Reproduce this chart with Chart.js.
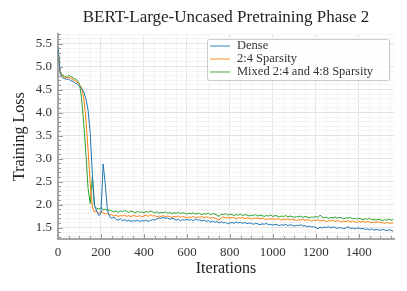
<!DOCTYPE html>
<html>
<head>
<meta charset="utf-8">
<script src="https://cdn.jsdelivr.net/npm/chart.js@4/dist/chart.umd.min.js"></script>
<style>
  html, body { margin: 0; padding: 0; background: #fff; }
  #wrap { width: 407px; height: 291px; }
</style>
</head>
<body>
<div id="wrap"><canvas id="lossChart" width="407" height="291"></canvas></div>
<script>
const iterations = [
    0, 10, 20, 30, 40, 50, 60, 70, 80, 90, 100, 110, 120, 130, 140, 150, 160, 170, 180, 190,
    200, 210, 220, 230, 240, 250, 260, 270, 280, 290, 300, 310, 320, 330, 340, 350, 360, 370, 380, 390,
    400, 410, 420, 430, 440, 450, 460, 470, 480, 490, 500, 510, 520, 530, 540, 550, 560, 570, 580, 590,
    600, 610, 620, 630, 640, 650, 660, 670, 680, 690, 700, 710, 720, 730, 740, 750, 760, 770, 780, 790,
    800, 810, 820, 830, 840, 850, 860, 870, 880, 890, 900, 910, 920, 930, 940, 950, 960, 970, 980, 990,
    1000, 1010, 1020, 1030, 1040, 1050, 1060, 1070, 1080, 1090, 1100, 1110, 1120, 1130, 1140, 1150, 1160, 1170, 1180, 1190,
    1200, 1210, 1220, 1230, 1240, 1250, 1260, 1270, 1280, 1290, 1300, 1310, 1320, 1330, 1340, 1350, 1360, 1370, 1380, 1390,
    1400, 1410, 1420, 1430, 1440, 1450, 1460, 1470, 1480, 1490, 1500, 1510, 1520, 1530, 1540, 1550, 1560
];

const denseLoss = [
    5.42, 4.85, 4.76, 4.74, 4.72, 4.73, 4.69, 4.68, 4.64, 4.62, 4.58, 4.52, 4.45, 4.30, 4.05, 3.55, 2.65, 1.98, 1.86, 1.76,
    1.80, 2.88, 2.45, 1.88, 1.74, 1.70, 1.73, 1.68, 1.66, 1.69, 1.65, 1.67, 1.64, 1.66, 1.63, 1.65, 1.64, 1.66, 1.63, 1.65,
    1.64, 1.66, 1.63, 1.65, 1.67, 1.66, 1.69, 1.71, 1.70, 1.72, 1.70, 1.71, 1.68, 1.70, 1.69, 1.66, 1.68, 1.64, 1.67, 1.66,
    1.68, 1.66, 1.67, 1.65, 1.68, 1.66, 1.67, 1.64, 1.66, 1.63, 1.65, 1.62, 1.64, 1.61, 1.63, 1.60, 1.62, 1.60, 1.61, 1.58,
    1.60, 1.61, 1.59, 1.62, 1.60, 1.61, 1.59, 1.61, 1.58, 1.60, 1.59, 1.57, 1.59, 1.58, 1.56, 1.58, 1.57, 1.59, 1.56, 1.57,
    1.55, 1.57, 1.56, 1.54, 1.56, 1.55, 1.57, 1.54, 1.56, 1.55, 1.53, 1.55, 1.54, 1.56, 1.53, 1.54, 1.52, 1.53, 1.51, 1.52,
    1.50, 1.47, 1.51, 1.49, 1.51, 1.50, 1.52, 1.49, 1.51, 1.50, 1.48, 1.50, 1.49, 1.47, 1.49, 1.52, 1.48, 1.49, 1.47, 1.48,
    1.49, 1.47, 1.48, 1.46, 1.47, 1.45, 1.47, 1.44, 1.46, 1.45, 1.44, 1.46, 1.45, 1.43, 1.45, 1.44, 1.42
];

const sparse24Loss = [
    5.40, 4.88, 4.80, 4.77, 4.75, 4.77, 4.74, 4.72, 4.69, 4.66, 4.61, 4.54, 4.32, 3.85, 3.20, 2.45, 1.95, 1.84, 1.87, 1.80,
    1.85, 1.82, 1.79, 1.81, 1.77, 1.78, 1.75, 1.77, 1.74, 1.76, 1.75, 1.77, 1.74, 1.76, 1.73, 1.77, 1.75, 1.74, 1.76, 1.73,
    1.75, 1.77, 1.74, 1.78, 1.75, 1.76, 1.73, 1.75, 1.74, 1.76, 1.73, 1.75, 1.74, 1.72, 1.74, 1.73, 1.75, 1.72, 1.74, 1.73,
    1.71, 1.73, 1.72, 1.74, 1.71, 1.73, 1.72, 1.74, 1.71, 1.73, 1.72, 1.70, 1.72, 1.71, 1.68, 1.66, 1.71, 1.73, 1.71, 1.72,
    1.70, 1.72, 1.71, 1.69, 1.71, 1.70, 1.72, 1.69, 1.71, 1.70, 1.68, 1.70, 1.69, 1.71, 1.68, 1.70, 1.69, 1.67, 1.69, 1.68,
    1.70, 1.67, 1.69, 1.68, 1.66, 1.68, 1.67, 1.69, 1.66, 1.68, 1.67, 1.65, 1.67, 1.66, 1.68, 1.65, 1.67, 1.66, 1.64, 1.66,
    1.65, 1.67, 1.64, 1.66, 1.65, 1.63, 1.65, 1.64, 1.66, 1.63, 1.65, 1.64, 1.62, 1.64, 1.63, 1.65, 1.62, 1.64, 1.63, 1.61,
    1.63, 1.62, 1.64, 1.61, 1.63, 1.62, 1.60, 1.62, 1.61, 1.63, 1.60, 1.61, 1.59, 1.61, 1.60, 1.59, 1.60
];

const mixedLoss = [
    5.38, 4.90, 4.82, 4.79, 4.77, 4.81, 4.78, 4.76, 4.73, 4.70, 4.62, 4.30, 3.75, 3.10, 2.35, 2.02, 2.60, 1.95, 1.92, 1.90,
    1.93, 1.88, 1.90, 1.87, 1.88, 1.86, 1.84, 1.86, 1.83, 1.86, 1.84, 1.87, 1.85, 1.83, 1.86, 1.84, 1.82, 1.85, 1.83, 1.84,
    1.82, 1.85, 1.83, 1.86, 1.84, 1.82, 1.84, 1.81, 1.83, 1.82, 1.84, 1.81, 1.83, 1.80, 1.82, 1.81, 1.83, 1.80, 1.82, 1.81,
    1.79, 1.81, 1.80, 1.82, 1.79, 1.81, 1.80, 1.78, 1.80, 1.79, 1.81, 1.78, 1.80, 1.79, 1.77, 1.74, 1.79, 1.78, 1.80, 1.77,
    1.79, 1.78, 1.76, 1.78, 1.77, 1.79, 1.76, 1.78, 1.77, 1.75, 1.77, 1.76, 1.78, 1.75, 1.77, 1.76, 1.74, 1.76, 1.75, 1.77,
    1.74, 1.76, 1.75, 1.73, 1.75, 1.74, 1.76, 1.73, 1.75, 1.74, 1.72, 1.74, 1.73, 1.75, 1.72, 1.74, 1.73, 1.71, 1.73, 1.72,
    1.74, 1.72, 1.77, 1.73, 1.71, 1.72, 1.70, 1.72, 1.71, 1.73, 1.70, 1.72, 1.71, 1.69, 1.71, 1.70, 1.72, 1.69, 1.70, 1.68,
    1.70, 1.69, 1.67, 1.69, 1.68, 1.70, 1.67, 1.68, 1.66, 1.68, 1.67, 1.65, 1.67, 1.66, 1.68, 1.66, 1.67
];

const seriesNames = ['Dense', '2:4 Sparsity', 'Mixed 2:4 and 4:8 Sparsity'];
const seriesColors = ['#1f77b4', '#ff7f0e', '#2ca02c'];
const seriesValues = [denseLoss, sparse24Loss, mixedLoss];

const serif = "'Liberation Serif', 'Times New Roman', serif";

// legend box drawn inside the plot, top right
const insideLegend = {
    id: 'insideLegend',
    afterDatasetsDraw(chart) {
        const ctx = chart.ctx;
        const x0 = 207, y0 = 39, w = 182, h = 41;
        ctx.save();
        ctx.fillStyle = 'rgba(255,255,255,0.85)';
        ctx.strokeStyle = '#cccccc';
        ctx.lineWidth = 1;
        ctx.beginPath();
        ctx.roundRect(x0 + 0.5, y0 + 0.5, w, h, 2);
        ctx.fill();
        ctx.stroke();
        ctx.font = '12.5px ' + serif;
        ctx.textBaseline = 'middle';
        chart.data.datasets.forEach((ds, i) => {
            const cy = y0 + 7 + i * 13;
            ctx.globalAlpha = 0.6;
            ctx.strokeStyle = ds.borderColor;
            ctx.lineWidth = 1.5;
            ctx.beginPath();
            ctx.moveTo(210, cy);
            ctx.lineTo(230, cy);
            ctx.stroke();
            ctx.globalAlpha = 1;
            ctx.fillStyle = '#333';
            ctx.fillText(ds.label, 237, cy);
        });
        ctx.restore();
    }
};

// small inward tick marks along the left and bottom axes
const innerTicks = {
    id: 'innerTicks',
    afterDraw(chart) {
        const ctx = chart.ctx;
        const area = chart.chartArea;
        const xs = chart.scales.x, ys = chart.scales.y;
        ctx.save();
        ctx.strokeStyle = '#999';
        ctx.lineWidth = 1;
        xs.ticks.forEach(t => {
            const px = Math.round(xs.getPixelForValue(t.value)) + 0.5;
            const len = t.value % 200 === 0 ? 5 : 3;
            ctx.beginPath();
            ctx.moveTo(px, area.bottom);
            ctx.lineTo(px, area.bottom - len);
            ctx.stroke();
        });
        ys.ticks.forEach(t => {
            const py = Math.round(ys.getPixelForValue(t.value)) + 0.5;
            const major = Math.abs(t.value * 2 - Math.round(t.value * 2)) < 1e-6;
            ctx.beginPath();
            ctx.moveTo(area.left, py);
            ctx.lineTo(area.left + (major ? 5 : 3), py);
            ctx.stroke();
        });
        ctx.restore();
    }
};

const isHalf = v => Math.abs(v * 2 - Math.round(v * 2)) < 1e-6;

new Chart(document.getElementById('lossChart'), {
    type: 'line',
    data: {
        datasets: seriesValues.map((vals, i) => ({
            label: seriesNames[i],
            data: iterations.map((it, j) => ({ x: it, y: vals[j] })),
            borderColor: seriesColors[i],
            borderWidth: 1,
            pointRadius: 0,
            tension: 0,
            fill: false
        }))
    },
    options: {
        responsive: false,
        animation: false,
        events: [],
        layout: { padding: { left: 0, right: 13, top: 0, bottom: 0 } },
        plugins: {
            legend: { display: false },
            tooltip: { enabled: false },
            title: {
                display: true,
                fullSize: false,
                text: 'BERT-Large-Uncased Pretraining Phase 2',
                color: '#222',
                font: { family: serif, size: 17, weight: 'normal', lineHeight: 1.2 },
                padding: { top: 7, bottom: 7 }
            }
        },
        scales: {
            x: {
                type: 'linear',
                min: 0,
                max: 1564,
                afterFit: s => { s.height = 52; },
                border: { color: '#a6a6a6', width: 2 },
                grid: {
                    drawTicks: false,
                    color: c => (c.tick && c.tick.value % 200 === 0) ? '#e4e4e4' : '#f4f4f4'
                },
                ticks: {
                    stepSize: 50,
                    autoSkip: false,
                    includeBounds: false,
                    maxRotation: 0,
                    padding: 6,
                    color: '#333',
                    font: { family: serif, size: 13 },
                    callback: v => v % 200 === 0 ? String(v) : ''
                },
                title: {
                    display: true,
                    text: 'Iterations',
                    color: '#222',
                    font: { family: serif, size: 16 },
                    padding: { top: 0, bottom: 13 }
                }
            },
            y: {
                type: 'linear',
                min: 1.25,
                max: 5.7,
                afterFit: s => { s.width = 58; },
                border: { color: '#a6a6a6', width: 2 },
                grid: {
                    drawTicks: false,
                    color: c => (c.tick && isHalf(c.tick.value)) ? '#e4e4e4' : '#f4f4f4'
                },
                ticks: {
                    stepSize: 0.1,
                    autoSkip: false,
                    includeBounds: false,
                    padding: 6,
                    color: '#333',
                    font: { family: serif, size: 13 },
                    callback: v => isHalf(v) ? v.toFixed(1) : ''
                },
                title: {
                    display: true,
                    text: 'Training Loss',
                    color: '#222',
                    font: { family: serif, size: 16 },
                    padding: { top: 10, bottom: 0 }
                }
            }
        }
    },
    plugins: [insideLegend, innerTicks]
});
</script>
</body>
</html>
